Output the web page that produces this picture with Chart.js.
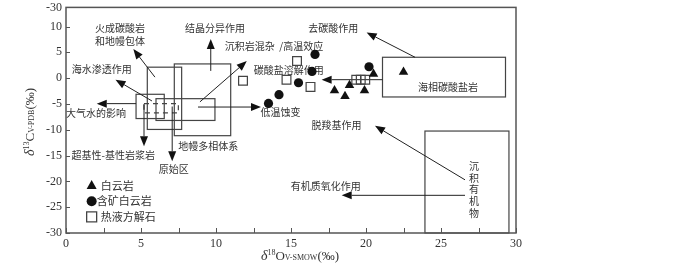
<!DOCTYPE html>
<html>
<head>
<meta charset="utf-8">
<script src="https://cdn.jsdelivr.net/npm/chart.js@4.4.0/dist/chart.umd.min.js"></script>
<style>
  html, body { margin: 0; padding: 0; background: #fff; }
</style>
</head>
<body>
<canvas id="isoChart" width="700" height="263"></canvas>
<script>
// δ18O vs δ13C scatter with genetic-field diagram

const SERIES_NAMES = ['白云岩', '含矿白云岩', '热液方解石'];

// [δ18O, δ13C]
const DOLOMITE = [[17.9, -2.4], [18.9, -1.4], [18.6, -3.5], [19.9, -2.4], [20.5, 0.8], [22.5, 1.2]];
const ORE_DOLOMITE = [[16.6, 4.6], [16.4, 1.3], [15.5, -0.9], [14.2, -3.2], [13.5, -4.9], [20.2, 2.2]];
const CALCITE = [[15.4, 3.3], [11.8, -0.5], [14.7, -0.3], [16.3, -1.7], [19.35, -0.3], [19.65, -0.3], [19.95, -0.3]];

const X_TICKS_MAJOR = [0, 5, 10, 15, 20, 25, 30];
const Y_TICKS = [-30, -25, -20, -15, -10, -5, 0, 5, 10, 13.7];
const Y_TICK_LABELS = ['-30', '-25', '-20', '-15', '-10', '-5', '0', '5', '10', '-30'];

// field boxes [x1, y1, x2, y2]
const BOXES = [
    [5.42, 2.12, 7.71, -9.94],   // 火成碳酸岩和地幔包体
    [7.22, 2.75, 10.98, -11.15], // 地幔多相体系
    [4.67, -3.13, 6.55, -7.83],
    [6.0, -3.98, 9.93, -8.2],
    [21.1, 4.04, 29.3, -3.65],   // 海相碳酸盐岩
    [23.93, -10.25, 29.53, -30], // 沉积有机物
];
const DASHED_BOX = [5.2, -4.94, 7.49, -6.73];

// arrows [fromX, fromY, tipX, tipY]
const ARROWS = [
    [5.2, -5.0, 5.2, -13.2],      // 超基性-基性岩浆岩
    [7.08, -5.5, 7.08, -16.1],    // 原始区
    [4.67, -4.94, 2.05, -4.94],   // 大气水的影响
    [5.73, -4.42, 3.3, -0.3],     // 海水渗透作用
    [5.93, 0.19, 4.49, 5.63],     // 火成碳酸岩
    [9.65, 1.4, 9.65, 7.6],       // 结晶分异作用
    [8.93, -4.6, 12.05, 3.3],     // 沉积岩混杂
    [8.8, -5.6, 13.0, -5.6],      // 低温蚀变
    [21.1, -0.3, 17.04, -0.3],    // 碳酸盐溶解作用
    [23.27, 4.04, 20.04, 8.85],   // 去碳酸作用
    [26.6, -19.7, 20.6, -9.23],   // 脱羧基作用
    [26.6, -22.7, 18.38, -22.7],  // 有机质氧化作用
];

// [text, x, y] centred
const LABELS = [
    ['火成碳酸岩', 3.6, 9.6],
    ['和地幔包体', 3.6, 7.06],
    ['结晶分异作用', 9.93, 9.6],
    ['沉积岩混杂  /高温效应', 13.87, 6.15],
    ['去碳酸作用', 17.82, 9.6],
    ['海水渗透作用', 2.38, 1.79],
    ['碳酸盐溶解作用', 14.85, 1.48],
    ['大气水的影响', 2.0, -6.87],
    ['低温蚀变', 14.3, -6.54],
    ['脱羧基作用', 18.04, -9.1],
    ['超基性-基性岩浆岩', 3.15, -14.87],
    ['地幔多相体系', 9.49, -13.27],
    ['原始区', 7.19, -17.56],
    ['有机质氧化作用', 17.32, -20.96],
    ['海相碳酸盐岩', 25.46, -1.73],
];
const VERTICAL_LABEL = ['沉积有机物', 27.2, -17.1, -2.25];

const LEGEND_X = 1.71;
const LEGEND_Y = [-20.8, -23.85, -26.87];

const INK = '#333';
const CJK = '"Noto Sans CJK SC", sans-serif';
const SERIF = '"Liberation Serif", "DejaVu Serif", serif';

function toPoints(arr) {
    return arr.map(p => ({ x: p[0], y: p[1] }));
}

function drawArrow(ctx, x1, y1, x2, y2) {
    const a = Math.atan2(y2 - y1, x2 - x1);
    const L = 10, W = 4;
    const bx = x2 - L * Math.cos(a), by = y2 - L * Math.sin(a);
    ctx.beginPath();
    ctx.moveTo(x1, y1);
    ctx.lineTo(bx, by);
    ctx.stroke();
    ctx.beginPath();
    ctx.moveTo(x2, y2);
    ctx.lineTo(bx + W * Math.sin(a), by - W * Math.cos(a));
    ctx.lineTo(bx - W * Math.sin(a), by + W * Math.cos(a));
    ctx.closePath();
    ctx.fill();
}

function drawMarker(ctx, style, x, y) {
    ctx.beginPath();
    if (style === 'triangle') {
        ctx.moveTo(x, y - 5.5);
        ctx.lineTo(x + 5, y + 3.5);
        ctx.lineTo(x - 5, y + 3.5);
        ctx.closePath();
        ctx.fill();
    } else if (style === 'circle') {
        ctx.arc(x, y, 5, 0, Math.PI * 2);
        ctx.fill();
    } else {
        ctx.rect(x - 5, y - 5, 10, 10);
        ctx.stroke();
    }
}

// mixed-size text: parts = [text, size, raise, italic]
function drawRich(ctx, parts, cx, cy) {
    const fontOf = p => (p[3] ? 'italic ' : '') + p[1] + 'px ' + SERIF;
    let w = 0;
    parts.forEach(p => { ctx.font = fontOf(p); w += ctx.measureText(p[0]).width; });
    let x = cx - w / 2;
    ctx.textAlign = 'left';
    ctx.textBaseline = 'alphabetic';
    parts.forEach(p => {
        ctx.font = fontOf(p);
        ctx.fillText(p[0], x, cy - p[2]);
        x += ctx.measureText(p[0]).width;
    });
}

const diagramPlugin = {
    id: 'diagram',
    beforeDatasetsDraw(chart) {
        const ctx = chart.ctx;
        const sx = chart.scales.x, sy = chart.scales.y;
        const X = v => sx.getPixelForValue(v);
        const Y = v => sy.getPixelForValue(v);
        ctx.save();

        ctx.strokeStyle = '#444';
        ctx.lineWidth = 1.2;
        BOXES.forEach(b => {
            ctx.strokeRect(X(b[0]), Y(b[1]), X(b[2]) - X(b[0]), Y(b[3]) - Y(b[1]));
        });
        ctx.setLineDash([5, 4]);
        ctx.strokeRect(X(DASHED_BOX[0]), Y(DASHED_BOX[1]),
            X(DASHED_BOX[2]) - X(DASHED_BOX[0]), Y(DASHED_BOX[3]) - Y(DASHED_BOX[1]));
        ctx.setLineDash([]);

        ctx.strokeStyle = '#222';
        ctx.fillStyle = '#111';
        ctx.lineWidth = 1;
        ARROWS.forEach(a => drawArrow(ctx, X(a[0]), Y(a[1]), X(a[2]), Y(a[3])));

        ctx.fillStyle = INK;
        ctx.font = '10px ' + CJK;
        ctx.textAlign = 'center';
        ctx.textBaseline = 'middle';
        LABELS.forEach(l => ctx.fillText(l[0], X(l[1]), Y(l[2])));
        const [vt, vx, vy, step] = VERTICAL_LABEL;
        Array.from(vt).forEach((ch, i) => ctx.fillText(ch, X(vx), Y(vy + i * step)));

        ctx.restore();
    },
    afterDraw(chart) {
        const ctx = chart.ctx;
        const area = chart.chartArea;
        const sx = chart.scales.x, sy = chart.scales.y;
        ctx.save();

        // frame
        ctx.strokeStyle = '#555';
        ctx.lineWidth = 1.5;
        ctx.strokeRect(area.left, area.top, area.right - area.left, area.bottom - area.top);

        // inward ticks
        ctx.lineWidth = 1;
        ctx.beginPath();
        sx.ticks.forEach(t => {
            const px = Math.round(sx.getPixelForValue(t.value)) + 0.5;
            ctx.moveTo(px, area.bottom);
            ctx.lineTo(px, area.bottom - 5);
        });
        sy.ticks.forEach(t => {
            const py = Math.round(sy.getPixelForValue(t.value)) + 0.5;
            ctx.moveTo(area.left, py);
            ctx.lineTo(area.left + 4, py);
        });
        ctx.stroke();

        // legend
        const X = v => sx.getPixelForValue(v);
        const Y = v => sy.getPixelForValue(v);
        chart.data.datasets.forEach((ds, i) => {
            const mx = X(LEGEND_X), my = Y(LEGEND_Y[i]);
            ctx.fillStyle = '#111';
            ctx.strokeStyle = '#444';
            ctx.lineWidth = 1.3;
            drawMarker(ctx, ds.pointStyle, mx, my);
            ctx.fillStyle = INK;
            ctx.font = '11px ' + CJK;
            ctx.textAlign = 'left';
            ctx.textBaseline = 'middle';
            ctx.fillText(ds.label, mx + (ds.pointStyle === 'circle' ? 5 : 9), my);
        });

        // axis titles
        ctx.fillStyle = INK;
        drawRich(ctx, [['δ', 14, 0, true], ['18', 8, 5], ['O', 13, 0], ['V-SMOW', 8, 0], ['(‰)', 13, 0]], 300, 260);
        ctx.translate(34, 122);
        ctx.rotate(-Math.PI / 2);
        drawRich(ctx, [['δ', 14, 0, true], ['13', 8, 5], ['C', 13, 0], ['V-PDB', 8, 0], ['(‰)', 13, 0]], 0, 0);
        ctx.restore();
    }
};

new Chart(document.getElementById('isoChart'), {
    type: 'scatter',
    data: {
        datasets: [
            {
                label: SERIES_NAMES[0],
                data: toPoints(DOLOMITE),
                pointStyle: 'triangle',
                pointRadius: 5.5,
                backgroundColor: '#111',
                borderColor: '#111',
                borderWidth: 0,
            },
            {
                label: SERIES_NAMES[1],
                data: toPoints(ORE_DOLOMITE),
                pointStyle: 'circle',
                pointRadius: 4.6,
                backgroundColor: '#111',
                borderColor: '#111',
                borderWidth: 0,
            },
            {
                label: SERIES_NAMES[2],
                data: toPoints(CALCITE),
                pointStyle: 'rect',
                pointRadius: 6.2,
                backgroundColor: 'rgba(0,0,0,0)',
                borderColor: '#444',
                borderWidth: 1.2,
            },
        ]
    },
    options: {
        responsive: false,
        animation: false,
        layout: { padding: { top: 5, right: 184, left: 0, bottom: 0 } },
        plugins: {
            legend: { display: false },
            tooltip: { enabled: false },
        },
        scales: {
            x: {
                type: 'linear',
                min: 0,
                max: 30,
                afterFit: s => {
                    s.height = 30;
                    s.paddingLeft = 0;
                    s.paddingRight = 0;
                },
                grid: { display: false, drawTicks: false },
                border: { display: false },
                ticks: {
                    stepSize: 2.5,
                    autoSkip: false,
                    maxRotation: 0,
                    padding: 4,
                    color: INK,
                    font: { family: SERIF, size: 12 },
                    callback: v => X_TICKS_MAJOR.includes(v) ? String(v) : '',
                },
            },
            y: {
                type: 'linear',
                min: -30,
                max: 13.7,
                afterFit: s => {
                    s.width = 66;
                    s.paddingTop = 0;
                    s.paddingBottom = 0;
                },
                afterBuildTicks: s => { s.ticks = Y_TICKS.map(v => ({ value: v })); },
                grid: { display: false, drawTicks: false },
                border: { display: false },
                ticks: {
                    padding: 4,
                    color: INK,
                    font: { family: SERIF, size: 12 },
                    callback: (v, i) => Y_TICK_LABELS[i],
                },
            },
        },
    },
    plugins: [diagramPlugin],
});
</script>
</body>
</html>
